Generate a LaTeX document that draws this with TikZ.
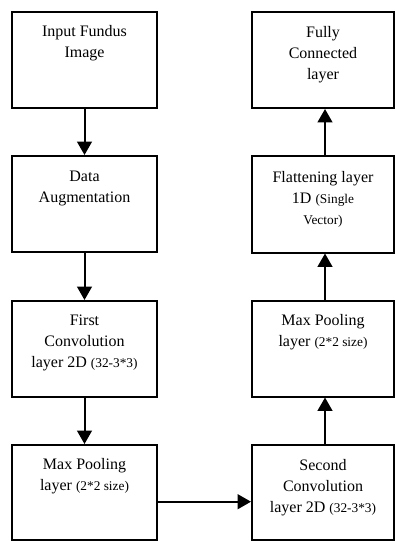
\documentclass[tikz,border=0pt]{standalone}
\usepackage{fontspec}
\setmainfont{Liberation Serif}
\usetikzlibrary{arrows.meta}
\newcommand{\sm}[1]{{\fontsize{10}{15.75}\selectfont #1}}
\begin{document}
\begin{tikzpicture}[x=0.75pt,y=-0.75pt,
  boxl/.style={draw=black, line width=1.5pt, rectangle, inner sep=0pt, minimum width=108.75pt, minimum height=72pt},
  boxr/.style={draw=black, line width=1.5pt, rectangle, inner sep=0pt, minimum width=106.5pt, minimum height=72pt},
  lbl/.style={anchor=north, align=center, inner sep=0pt, font=\fontsize{12}{15.75}\selectfont},
  arr/.style={line width=1.5pt, -{Triangle[width=11pt,length=10pt]}}]
\useasboundingbox[fill=white] (0,0) rectangle (395,541);
\node[boxl] (b1) at (84.5,60) {};
\node[boxl] (b2) at (84.5,204) {};
\node[boxl] (b3) at (84.5,349) {};
\node[boxl, minimum height=71.25pt] (b4) at (84.5,492.5) {};
\node[boxr, minimum height=71.25pt] (b5) at (323,492.5) {};
\node[boxr] (b6) at (323,348.5) {};
\node[boxr] (b7) at (323,204.5) {};
\node[boxr] (b8) at (323,60) {};
\node[lbl] (t1) at ([yshift=-10.5pt]b1.north) {Input Fundus\\Image};
\node[lbl] (t2) at ([yshift=-11.5pt]b2.north) {Data\\Augmentation};
\node[lbl] (t3) at ([yshift=-11pt]b3.north) {First\\Convolution\\layer 2D \sm{(32-3*3)}};
\node[lbl] (t4) at ([yshift=-10.5pt]b4.north) {Max Pooling\\layer \sm{(2*2 size)}};
\node[lbl] (t5) at ([yshift=-11pt]b5.north) {Second\\Convolution\\layer 2D \sm{(32-3*3)}};
\node[lbl] (t6) at ([yshift=-11pt]b6.north) {Max Pooling\\layer \sm{(2*2 size)}};
\node[lbl] (t7) at ([yshift=-11.5pt]b7.north) {Flattening layer\\1D \sm{(Single}\\\sm{Vector)}};
\node[lbl] (t8) at ([yshift=-11pt]b8.north) {Fully\\Connected\\layer};
\draw[arr] (b1) -- (b2);
\draw[arr] (b2) -- (b3);
\draw[arr] (b3) -- (b4);
\draw[arr] ([yshift=-6.9pt]b4.east) -- ([yshift=-6.9pt]b5.west);
\draw[arr] ([xshift=1.5pt]b5.north) -- ([xshift=1.5pt]b6.south);
\draw[arr] ([xshift=1.5pt]b6.north) -- ([xshift=1.5pt]b7.south);
\draw[arr] ([xshift=1.5pt]b7.north) -- ([xshift=1.5pt]b8.south);
\end{tikzpicture}
\end{document}
